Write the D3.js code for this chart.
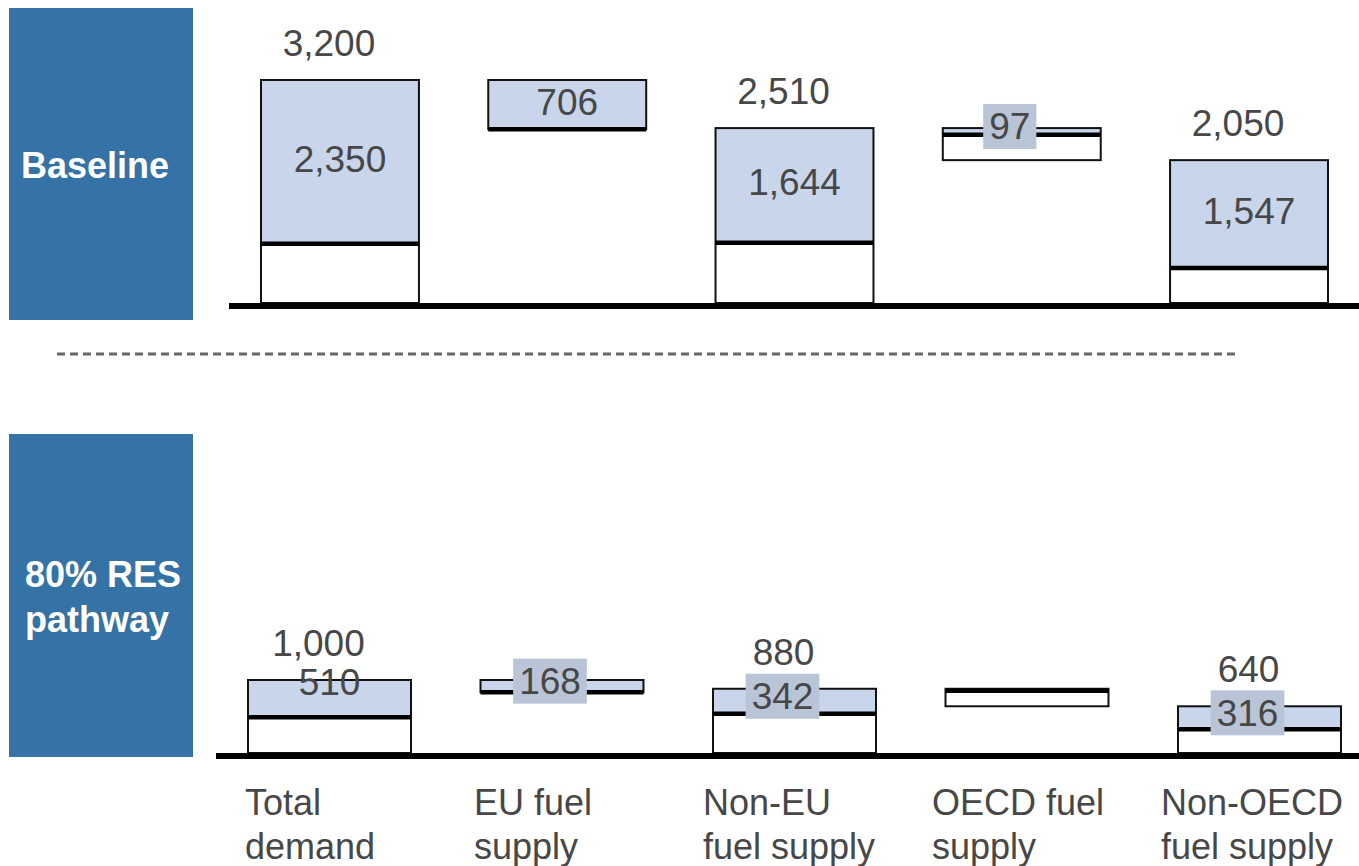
<!DOCTYPE html>
<html>
<head>
<meta charset="utf-8">
<script src="https://cdn.jsdelivr.net/npm/d3@7"></script>
<style>
  body { margin: 0; background: #fff; }
  svg { display: block; }
  text { font-family: "Liberation Sans", Arial, Helvetica, sans-serif; }
</style>
</head>
<body>
<svg id="chart" width="1359" height="866"></svg>
<script>
// Fuel demand and supply split, two scenarios
const categories = ["Total demand", "EU fuel supply", "Non-EU fuel supply", "OECD fuel supply", "Non-OECD fuel supply"];
const categoryLines = [["Total", "demand"], ["EU fuel", "supply"], ["Non-EU", "fuel supply"], ["OECD fuel", "supply"], ["Non-OECD", "fuel supply"]];
const scenarioLabels = [["Baseline"], ["80% RES", "pathway"]];

// Totals for the standing bars (null = step bar between neighbours)
const baselineTotals = [3200, null, 2510, null, 2050];
const baselineShaded = [2350, 706, 1644, 97, 1547];
const resTotals = [1000, null, 880, null, 640];
const resShaded = [510, 168, 342, null, 316];

const fmt = d3.format(",");
const C = {
  side: "#3572a6",
  fill: "#c8d5ea",
  tag: "#b9c5d7",
  text: "#474747",
  ink: "#111"
};

const svg = d3.select("#chart");

const panels = [
  { totals: baselineTotals, shaded: baselineShaded, label: scenarioLabels[0],
    box: { y: 8, h: 312 }, labelX: 21, labelY: [178],
    axisY: 306, axisX0: 229, yRange: [303, 80], xRange: [261, 1328], pad: 0.305 },
  { totals: resTotals, shaded: resShaded, label: scenarioLabels[1],
    box: { y: 434, h: 323 }, labelX: 25, labelY: [587, 632],
    axisY: 756, axisX0: 216, yRange: [753, 680], xRange: [248, 1341], pad: 0.299 }
];

// Standing bars use their own totals; step bars span the drop between neighbours
function buildBars(totals, shaded) {
  const white = totals.map((t, i) => t == null ? null : t - shaded[i]);
  return totals.map((t, i) => {
    if (t != null) return { i, top: t, blue: shaded[i], white: white[i], label: shaded[i], total: t };
    const top = totals[i - 1];
    const blue = shaded[i] != null ? shaded[i] : shaded[i - 1] - shaded[i + 1];
    const wh = Math.max(0, white[i - 1] - white[i + 1]);
    return { i, top, blue, white: wh, label: shaded[i], total: null };
  });
}

panels.forEach(p => {
  const g = svg.append("g");
  const x = d3.scaleBand().domain(categories).range(p.xRange).paddingInner(p.pad).paddingOuter(0);
  const y = d3.scaleLinear().domain([0, p.totals[0]]).range(p.yRange);
  const bars = buildBars(p.totals, p.shaded);

  // scenario tag
  g.append("rect").attr("x", 9).attr("y", p.box.y).attr("width", 184).attr("height", p.box.h).attr("fill", C.side);
  g.append("text").attr("x", p.labelX).attr("fill", "#fff")
    .attr("font-size", 36).attr("font-weight", "bold")
    .selectAll("tspan").data(p.label).join("tspan")
    .attr("x", p.labelX).attr("y", (d, k) => p.labelY[k]).text(d => d);

  // bars
  const bg = g.selectAll("g.bar").data(bars).join("g").attr("class", "bar");
  bg.each(function (d) {
    const s = d3.select(this);
    const x0 = x(categories[d.i]), w = x.bandwidth();
    const yTop = y(d.top), yDiv = y(d.top - d.blue), yBot = y(d.top - d.blue - d.white);
    s.append("rect").attr("x", x0).attr("y", yDiv).attr("width", w).attr("height", Math.max(0, yBot - yDiv)).attr("fill", "#fff");
    s.append("rect").attr("x", x0).attr("y", yTop).attr("width", w).attr("height", yDiv - yTop).attr("fill", C.fill);
    s.append("rect").attr("x", x0).attr("y", yTop).attr("width", w).attr("height", yBot - yTop)
      .attr("fill", "none").attr("stroke", C.ink).attr("stroke-width", 2);
    s.append("line").attr("x1", x0).attr("x2", x0 + w).attr("y1", yDiv).attr("y2", yDiv)
      .attr("stroke", "#000").attr("stroke-width", 4.5);
  });

  // axis baseline
  g.append("line").attr("x1", p.axisX0).attr("x2", 1359).attr("y1", p.axisY).attr("y2", p.axisY)
    .attr("stroke", "#000").attr("stroke-width", 6);

  // total labels above standing bars
  bars.filter(d => d.total != null).forEach(d => {
    g.append("text").attr("x", x(categories[d.i]) + x.bandwidth() / 2 - 11).attr("y", y(d.total) - 24)
      .attr("text-anchor", "middle").attr("font-size", 37).attr("fill", C.text).text(fmt(d.total));
  });

  // shaded-part labels
  bars.filter(d => d.label != null).forEach(d => {
    const yTop = y(d.top), yDiv = y(d.top - d.blue);
    const h = yDiv - yTop;
    const cx = x(categories[d.i]) + x.bandwidth() / 2;
    if (h < 32) {
      const cy = (yTop + yDiv) / 2 - 5;
      const t = g.append("text").attr("x", cx - 12).attr("y", cy + 13)
        .attr("text-anchor", "middle").attr("font-size", 37).attr("fill", C.text).text(fmt(d.label));
      const tw = t.node().getComputedTextLength();
      g.insert("rect", () => t.node())
        .attr("x", cx - 12 - tw / 2 - 6).attr("y", cy - 22.5).attr("width", tw + 12).attr("height", 45)
        .attr("fill", C.tag);
    } else {
      const base = h < 40 ? yTop + 15 : (yTop + yDiv) / 2 + 10;
      g.append("text").attr("x", cx).attr("y", base)
        .attr("text-anchor", "middle").attr("font-size", 37).attr("fill", C.text).text(fmt(d.label));
    }
  });
});

// separator between the scenarios
svg.append("line").attr("x1", 57).attr("x2", 1240).attr("y1", 354).attr("y2", 354)
  .attr("stroke", "#666").attr("stroke-width", 3).attr("stroke-dasharray", "8,5");

// category labels
const lx = d3.scalePoint().domain(categories).range([245, 1161]);
svg.append("g").selectAll("text").data(categories).join("text")
  .attr("x", d => lx(d)).attr("font-size", 36).attr("fill", C.text)
  .each(function (d, i) {
    d3.select(this).selectAll("tspan").data(categoryLines[i]).join("tspan")
      .attr("x", lx(d)).attr("y", (s, k) => 815 + k * 44).text(s => s);
  });
</script>
</body>
</html>
